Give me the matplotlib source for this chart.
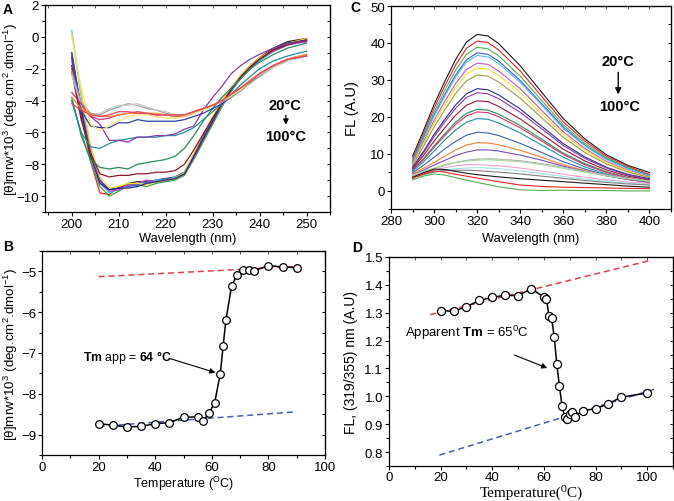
import matplotlib
matplotlib.use("Agg")
import matplotlib.pyplot as plt
from matplotlib.ticker import MultipleLocator

plt.rcParams['font.family'] = ['Liberation Sans', 'DejaVu Sans']
plt.rcParams['mathtext.fontset'] = 'custom'
plt.rcParams['mathtext.rm'] = 'Liberation Sans'
plt.rcParams['mathtext.it'] = 'Liberation Sans:italic'
plt.rcParams['mathtext.bf'] = 'Liberation Sans:bold'

# ---------------- Panel A : CD spectra ----------------
a_wl = [200, 202, 204, 206, 208, 210, 212, 214, 216, 218, 220, 222, 224, 226, 228, 230, 232, 234, 236, 238, 240, 243, 246, 250]
a_curves = [
    [-1.8, -5.0, -7.4, -9.0, -9.6, -9.5, -9.2, -9.1, -9.1, -9.0, -8.9, -8.8, -8.5, -7.4, -6.2, -5.1, -4.1, -3.2, -2.5, -1.8, -1.3, -0.7, -0.3, -0.1],
    [-2.0, -4.8, -7.8, -9.8, -9.9, -9.4, -9.3, -9.2, -9.2, -9.1, -9.0, -8.9, -8.6, -7.6, -6.5, -5.4, -4.3, -3.4, -2.6, -2.0, -1.4, -0.9, -0.5, -0.2],
    [-4.0, -6.0, -7.8, -9.4, -10.0, -9.7, -9.3, -9.3, -9.4, -9.2, -9.1, -9.0, -8.7, -7.7, -6.6, -5.5, -4.4, -3.4, -2.6, -2.0, -1.5, -0.9, -0.5, -0.2],
    [-1.0, -4.5, -7.2, -9.0, -9.6, -9.5, -9.4, -9.3, -9.1, -9.0, -8.9, -8.9, -8.5, -7.5, -6.3, -5.2, -4.2, -3.3, -2.5, -1.9, -1.4, -0.8, -0.4, -0.2],
    [0.4, -3.8, -7.0, -9.2, -9.8, -9.6, -9.3, -9.2, -9.2, -9.0, -9.0, -8.8, -8.6, -7.5, -6.4, -5.3, -4.3, -3.4, -2.6, -2.0, -1.5, -0.9, -0.5, -0.3],
    [-1.2, -4.4, -7.3, -9.1, -9.7, -9.6, -9.3, -9.2, -9.0, -9.1, -9.0, -8.9, -8.6, -7.6, -6.4, -5.3, -4.2, -3.3, -2.6, -2.0, -1.4, -0.9, -0.5, -0.3],
    [0.2, -3.5, -6.8, -8.8, -9.5, -9.4, -9.2, -9.2, -9.3, -9.1, -9.0, -8.9, -8.5, -7.3, -6.1, -5.0, -4.0, -3.2, -2.4, -1.8, -1.3, -0.8, -0.4, -0.1],
    [-1.3, -4.6, -7.5, -9.2, -9.6, -9.5, -9.5, -9.4, -9.2, -9.1, -9.0, -8.9, -8.6, -7.5, -6.4, -5.3, -4.2, -3.3, -2.5, -1.9, -1.4, -0.8, -0.4, -0.2],
    [-2.2, -5.2, -7.3, -8.6, -8.8, -8.7, -8.7, -8.6, -8.6, -8.5, -8.5, -8.4, -8.0, -7.1, -6.1, -5.1, -4.2, -3.3, -2.5, -1.9, -1.4, -0.8, -0.5, -0.2],
    [-3.8, -6.2, -7.7, -8.2, -8.3, -8.2, -8.3, -8.0, -7.9, -7.8, -7.7, -7.5, -7.0, -6.2, -5.3, -4.5, -3.8, -3.2, -2.6, -2.0, -1.6, -1.1, -0.7, -0.4],
    [-4.0, -6.0, -6.9, -7.0, -6.7, -6.5, -6.4, -6.3, -6.3, -6.3, -6.2, -6.2, -6.0, -5.7, -5.2, -4.7, -4.2, -3.6, -3.0, -2.5, -2.0, -1.5, -1.2, -0.9],
    [-1.5, -4.3, -5.0, -5.5, -6.5, -6.5, -6.6, -6.3, -6.3, -6.2, -6.2, -6.1, -5.8, -5.6, -4.6, -3.8, -3.1, -2.3, -1.8, -1.4, -1.1, -0.7, -0.4, -0.3],
    [-1.0, -4.6, -5.6, -5.7, -5.7, -5.4, -5.4, -5.2, -5.3, -5.3, -5.3, -5.3, -5.2, -5.0, -4.8, -4.5, -4.2, -3.8, -3.3, -2.9, -2.4, -1.8, -1.4, -1.1],
    [-2.2, -4.1, -4.8, -4.9, -4.6, -4.4, -4.2, -4.3, -4.5, -4.6, -4.8, -4.9, -4.9, -4.7, -4.5, -4.3, -4.1, -3.8, -3.4, -2.9, -2.5, -1.9, -1.5, -1.2],
    [-2.4, -4.3, -4.9, -4.8, -4.5, -4.3, -4.3, -4.2, -4.4, -4.6, -4.7, -4.9, -5.0, -4.8, -4.5, -4.3, -4.0, -3.7, -3.3, -2.8, -2.4, -1.9, -1.5, -1.2],
    [-3.5, -4.2, -5.0, -5.2, -5.1, -4.9, -4.8, -4.7, -4.8, -4.9, -4.9, -5.0, -5.0, -4.8, -4.5, -4.3, -4.0, -3.6, -3.2, -2.8, -2.3, -1.8, -1.4, -1.2],
    [0.0, -3.2, -5.5, -5.9, -5.6, -5.3, -5.0, -4.9, -4.9, -5.0, -5.1, -5.1, -5.0, -4.8, -4.6, -4.3, -4.0, -3.7, -3.3, -2.8, -2.3, -1.8, -1.4, -1.1],
    [-3.8, -4.5, -4.8, -5.0, -5.0, -4.9, -4.8, -4.8, -4.8, -4.8, -4.9, -5.0, -4.9, -4.7, -4.5, -4.3, -4.0, -3.6, -3.2, -2.7, -2.3, -1.8, -1.4, -1.1],
    [-4.2, -4.6, -4.9, -5.0, -4.9, -4.7, -4.7, -4.8, -4.8, -4.9, -4.9, -4.9, -4.9, -4.7, -4.5, -4.3, -4.0, -3.6, -3.2, -2.8, -2.3, -1.8, -1.4, -1.2],
]
a_colors = ['#1a1a1a', '#e3242b', '#3aa63a', '#3a50c0', '#4fc3e8', '#c03cb8', '#f0dc30', '#2a2a8c',
            '#8b1a2c', '#2e8b57', '#1f8f9f', '#8b3aa8', '#3040a0', '#a0a0a0', '#c8c8c8',
            '#d0307a', '#f5e070', '#f09030', '#e84060']

# ---------------- Panel C : fluorescence spectra ----------------
c_wl = [290, 295, 300, 305, 310, 315, 320, 325, 330, 340, 350, 360, 370, 380, 390, 400]
c_curves = [
    [9.3, 16.1, 23.3, 29.6, 35.5, 40.2, 42.3, 41.9, 39.8, 33.8, 26.6, 19.5, 14.0, 9.7, 6.8, 4.9],
    [8.6, 15.4, 22.3, 28.4, 34.0, 38.5, 40.5, 40.1, 38.1, 32.4, 25.5, 18.6, 13.4, 9.3, 6.5, 4.4],
    [8.2, 14.7, 21.3, 27.2, 32.6, 36.9, 38.8, 38.4, 36.5, 31.0, 24.4, 17.8, 12.8, 8.9, 6.2, 4.2],
    [7.8, 14.2, 20.5, 26.1, 31.3, 35.4, 37.3, 36.9, 35.1, 29.8, 23.5, 17.2, 12.3, 8.6, 6.0, 4.1],
    [7.6, 13.9, 20.1, 25.6, 30.7, 34.8, 36.6, 36.2, 34.4, 29.3, 23.1, 16.8, 12.1, 8.4, 5.9, 4.0],
    [7.3, 13.1, 19.0, 24.2, 29.0, 32.8, 34.5, 34.2, 32.4, 27.6, 21.7, 15.9, 11.4, 7.9, 5.5, 3.8],
    [7.0, 12.6, 18.3, 23.2, 27.9, 31.5, 33.2, 32.9, 31.2, 26.6, 20.9, 15.3, 11.0, 7.6, 5.3, 3.6],
    [6.8, 11.9, 17.2, 21.9, 26.3, 29.7, 31.3, 31.0, 29.4, 25.0, 19.7, 14.4, 10.3, 7.2, 5.0, 3.5],
    [6.3, 10.5, 15.2, 19.3, 23.2, 26.2, 27.6, 27.3, 25.9, 22.1, 17.4, 12.7, 9.1, 6.3, 4.4, 3.2],
    [6.1, 10.1, 14.6, 18.6, 22.3, 25.2, 26.5, 26.2, 24.9, 21.2, 16.7, 12.2, 8.7, 6.1, 4.2, 3.0],
    [5.9, 9.4, 13.4, 17.0, 20.4, 23.1, 24.3, 24.1, 22.8, 19.4, 15.3, 11.2, 8.0, 5.6, 3.9, 2.8],
    [5.6, 8.6, 12.1, 15.4, 18.5, 20.9, 22.0, 21.8, 20.7, 17.6, 13.9, 10.1, 7.3, 5.1, 3.5, 2.5],
    [5.5, 8.3, 11.7, 14.9, 17.9, 20.2, 21.3, 21.1, 20.0, 17.0, 13.4, 9.8, 7.0, 4.9, 3.4, 2.4],
    [5.2, 7.7, 10.7, 13.7, 16.4, 18.5, 19.5, 19.3, 18.3, 15.6, 12.3, 9.0, 6.4, 4.5, 3.1, 2.2],
    [4.8, 6.8, 9.0, 11.3, 13.3, 15.0, 15.8, 15.6, 14.9, 12.8, 10.3, 7.8, 5.8, 4.2, 3.0, 2.2],
    [4.5, 6.0, 7.6, 9.3, 11.0, 12.3, 13.0, 12.9, 12.4, 10.9, 9.0, 7.0, 5.4, 4.0, 3.0, 2.2],
    [4.3, 5.5, 6.9, 8.2, 9.5, 10.4, 11.0, 11.0, 10.7, 9.6, 8.2, 6.6, 5.2, 4.0, 3.0, 2.3],
    [4.0, 5.0, 5.9, 6.8, 7.6, 8.2, 8.5, 8.6, 8.5, 8.1, 7.3, 6.3, 5.2, 4.2, 3.3, 2.6],
    [4.2, 5.2, 6.1, 7.0, 7.6, 8.0, 8.2, 8.3, 8.2, 7.8, 7.0, 6.0, 5.0, 4.0, 3.2, 2.5],
    [3.8, 4.7, 5.5, 6.2, 6.7, 7.0, 7.0, 6.9, 6.7, 6.1, 5.3, 4.4, 3.6, 2.9, 2.3, 1.9],
    [3.6, 4.4, 5.1, 5.6, 5.9, 6.1, 6.2, 6.1, 5.9, 5.3, 4.6, 3.8, 3.1, 2.5, 2.0, 1.6],
    [3.5, 4.3, 5.0, 5.4, 5.5, 5.5, 5.4, 5.2, 5.0, 4.5, 3.9, 3.3, 2.7, 2.2, 1.8, 1.5],
    [3.6, 4.8, 5.8, 5.7, 5.2, 4.7, 4.3, 4.0, 3.7, 3.2, 2.8, 2.4, 2.0, 1.6, 1.2, 0.9],
    [3.3, 4.5, 5.3, 5.0, 4.4, 3.9, 3.4, 2.9, 2.4, 1.5, 1.1, 0.9, 0.8, 0.7, 0.6, 0.5],
    [2.9, 3.9, 4.5, 4.2, 3.5, 2.8, 2.2, 1.6, 1.0, 0.2, 0.0, 0.1, 0.0, 0.0, -0.1, -0.1],
]
c_colors = ['#1a1a1a', '#e3242b', '#52b152', '#3a5fcd', '#5bc0eb', '#c05ac8', '#f2e030', '#a09a40',
            '#2b2b8f', '#8b3aa8', '#8b1a3c', '#2e8b57', '#d6336c', '#1f8f9f', '#4060b0', '#f08030',
            '#7b4bb5', '#b0b0b0', '#a8d8a0', '#f0a0d0', '#a0e0e8', '#808080', '#1a1a1a', '#e3242b', '#52b152']

# ---------------- Panel B : CD melting ----------------
b_temp = [20, 25, 30, 35, 40, 45, 50, 55, 57, 59, 61, 63, 64, 65, 67, 69, 71, 73, 75, 80, 85, 90]
b_theta = [-8.73, -8.77, -8.81, -8.80, -8.73, -8.71, -8.57, -8.57, -8.67, -8.47, -8.22, -7.51,
           -6.83, -6.19, -5.35, -5.08, -4.96, -4.96, -4.98, -4.86, -4.89, -4.91]
b_red_x = [20, 90]
b_red_y = [-5.13, -4.88]
b_blue_x = [20, 90]
b_blue_y = [-8.80, -8.44]

# ---------------- Panel D : fluorescence melting ----------------
d_temp = [20, 25, 30, 35, 40, 45, 50, 55, 60, 61, 62, 63, 64, 65, 66, 67, 68, 69, 70, 71, 72, 75, 80, 85, 90, 100]
d_ratio = [1.308, 1.305, 1.322, 1.344, 1.355, 1.363, 1.361, 1.386, 1.357, 1.348, 1.287, 1.280, 1.213,
           1.115, 1.037, 0.967, 0.927, 0.918, 0.936, 0.943, 0.927, 0.949, 0.955, 0.974, 0.997, 1.012]
d_red_x = [16, 100.5]
d_red_y = [1.293, 1.486]
d_blue_x = [19.5, 103]
d_blue_y = [0.789, 1.026]

W, H = 674, 502
fig = plt.figure(figsize=(W / 100, H / 100), dpi=100)
YLBL = dict(fontsize=9.6)
XLBL = dict(fontsize=9.3)


def add_axes(l, r, t, b):
    return fig.add_axes([l / W, 1 - b / H, (r - l) / W, (b - t) / H])


def style(ax, xmaj, xmin, ymaj, ymin, topstep, rightstep, xpad=1.3):
    ax.xaxis.set_major_locator(MultipleLocator(xmaj))
    ax.xaxis.set_minor_locator(MultipleLocator(xmin))
    ax.yaxis.set_major_locator(MultipleLocator(ymaj))
    ax.yaxis.set_minor_locator(MultipleLocator(ymin))
    ax.tick_params(which='major', direction='out', length=3, width=0.8, labelsize=9.5, pad=1.3)
    ax.tick_params(axis='x', which='major', pad=xpad)
    ax.tick_params(which='minor', direction='out', length=2, width=0.8)
    for s in ax.spines.values():
        s.set_linewidth(0.9)
    sx = ax.secondary_xaxis('top')
    sx.xaxis.set_major_locator(MultipleLocator(topstep))
    sx.tick_params(direction='in', length=2.5, width=0.7, labeltop=False, labelbottom=False, color='#555555')
    sy = ax.secondary_yaxis('right')
    sy.yaxis.set_major_locator(MultipleLocator(rightstep))
    sy.tick_params(direction='in', length=2.5, width=0.7, labelright=False, labelleft=False)


def place_labels(ax, l, r, t, b, ylab_x, xlab_y):
    w, h = r - l, b - t
    ax.yaxis.set_label_coords((ylab_x - l) / w, 0.5)
    ax.yaxis.label.set_va('center')
    ax.xaxis.set_label_coords(0.5, (b - xlab_y) / h)
    ax.xaxis.label.set_va('center')


# Panel A
axA = add_axes(45, 330, 6, 213)
for ys, c in zip(a_curves, a_colors):
    axA.plot(a_wl, ys, color=c, lw=0.9)
axA.set_xlim(194.3, 255)
axA.set_ylim(-11, 2)
style(axA, 10, 5, 2, 1, 5, 1)
axA.set_xlabel('Wavelength (nm)', **XLBL)
axA.set_ylabel('[θ]mrw*10$^3$ (deg.cm$^2$.dmol$^{-1}$)', **YLBL)
place_labels(axA, 45, 330, 6, 213, 10.5, 239)
axA.text(245.4, -4.3, '20°C', ha='center', va='center', fontsize=10.5, fontweight='bold')
axA.text(245.6, -6.2, '100°C', ha='center', va='center', fontsize=10.5, fontweight='bold')
axA.annotate('', xy=(245.6, -5.7), xytext=(245.6, -4.75),
             arrowprops=dict(arrowstyle='-|>', color='black', lw=0.9, mutation_scale=8))

# Panel C
axC = add_axes(391, 671, 7, 210)
for ys, c in zip(c_curves, c_colors):
    axC.plot(c_wl, ys, color=c, lw=0.8)
axC.set_xlim(280, 410)
axC.set_ylim(-5, 50)
style(axC, 20, 10, 10, 5, 10, 5)
axC.set_xlabel('Wavelength (nm)', **XLBL)
axC.set_ylabel('FL (A.U)', fontsize=10.5)
place_labels(axC, 391, 671, 7, 210, 352, 239)
axC.text(385.5, 35.1, '20°C', ha='center', va='center', fontsize=10.5, fontweight='bold')
axC.text(386.0, 22.8, '100°C', ha='center', va='center', fontsize=10.5, fontweight='bold')
axC.annotate('', xy=(385.5, 25.3), xytext=(385.5, 32.8),
             arrowprops=dict(arrowstyle='-|>', color='black', lw=1.0, mutation_scale=9))

# Panel B
axB = add_axes(42, 325, 252, 456)
axB.plot(b_red_x, b_red_y, color='#d9434b', lw=1.1, ls=(0, (4, 2.5)))
axB.plot(b_blue_x, b_blue_y, color='#4a5fb0', lw=1.1, ls=(0, (4, 2.5)))
axB.plot(b_temp, b_theta, color='black', lw=1.1, marker='o', ms=5.5, mfc='white', mec='black', mew=0.9)
axB.set_xlim(0, 100)
axB.set_ylim(-9.5, -4.5)
style(axB, 20, 10, 1, 0.5, 10, 0.5)
axB.set_xlabel('Temperature ($^{\\mathrm{O}}$C)', fontsize=9)
axB.set_ylabel('[θ]mrw*10$^3$ (deg.cm$^2$.dmol$^{-1}$)', **YLBL)
place_labels(axB, 42, 325, 252, 456, 10.5, 484)
axB.text(14.4, -7.09, '$\\mathbf{Tm}$ app = $\\mathbf{64\\ °C}$', ha='left', va='center', fontsize=8.8)
axB.annotate('', xy=(62.2, -7.5), xytext=(44.0, -7.11),
             arrowprops=dict(arrowstyle='-|>', color='black', lw=0.8, mutation_scale=8))

# Panel D
axD = add_axes(389, 673, 258, 467)
axD.plot(d_red_x, d_red_y, color='#d9434b', lw=1.1, ls=(0, (4, 2.5)))
axD.plot(d_blue_x, d_blue_y, color='#4a5fb0', lw=1.1, ls=(0, (4, 2.5)))
axD.plot(d_temp, d_ratio, color='black', lw=1.1, marker='o', ms=5.8, mfc='white', mec='black', mew=0.9)
axD.set_xlim(0, 110)
axD.set_ylim(0.75, 1.5)
style(axD, 20, 10, 0.1, 0.05, 10, 0.05, xpad=0.6)
axD.set_xlabel('Temperature(\u2070C)', fontsize=11, family=['Liberation Serif', 'DejaVu Serif'])
axD.set_ylabel('FL, (319/355) nm (A.U)', fontsize=10)
place_labels(axD, 389, 673, 258, 467, 351, 492)
axD.text(6.2, 1.232, 'Apparent $\\mathbf{Tm}$ = 65$^0$C', ha='left', va='center', fontsize=9.5)
axD.annotate('', xy=(62.3, 1.098), xytext=(47.5, 1.152),
             arrowprops=dict(arrowstyle='-|>', color='black', lw=0.8, mutation_scale=8))

# Panel letters
fig.text(3 / W, 1 - 10 / H, 'A', fontsize=10, fontweight='bold', va='center')
fig.text(3 / W, 1 - 247 / H, 'B', fontsize=10, fontweight='bold', va='center')
fig.text(350 / W, 1 - 8 / H, 'C', fontsize=10, fontweight='bold', va='center')
fig.text(352 / W, 1 - 248 / H, 'D', fontsize=10, fontweight='bold', va='center')

fig.savefig('out.png', dpi=100)
